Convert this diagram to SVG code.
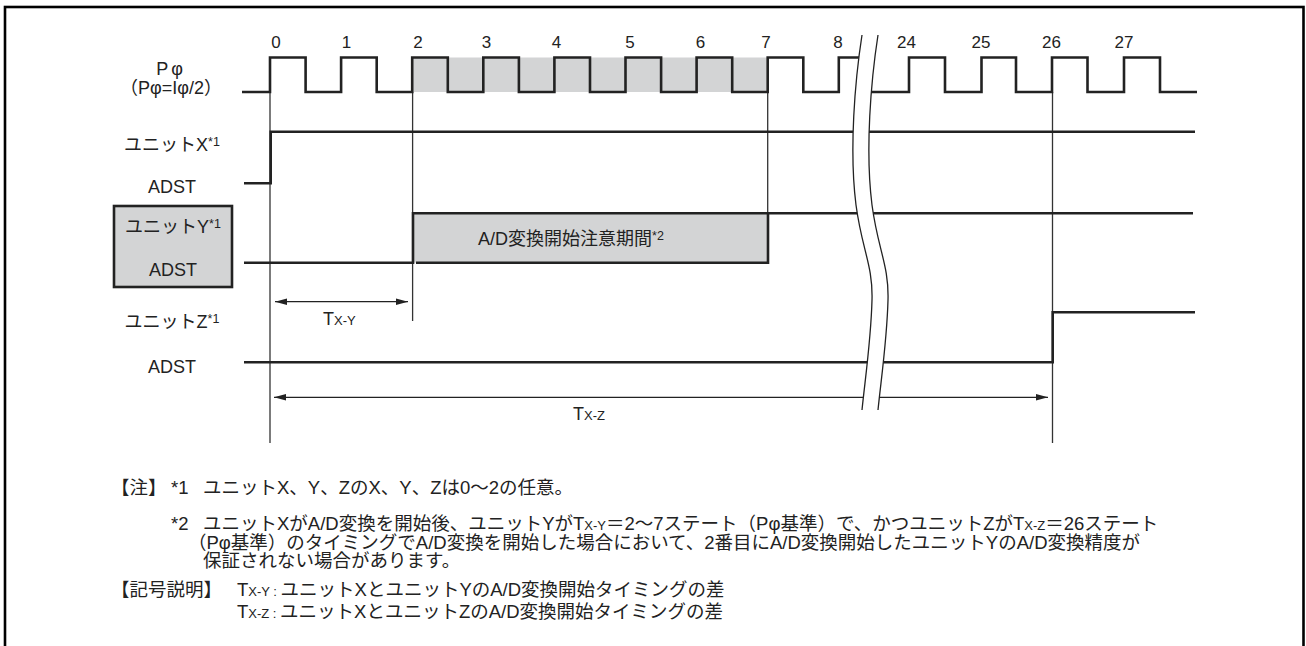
<svg xmlns="http://www.w3.org/2000/svg" width="1306" height="646" viewBox="0 0 1306 646">
<style>
text{font-family:"Liberation Sans","Noto Sans CJK JP",sans-serif;fill:#222}
.lbl{font-size:18px}
.num{font-size:17px;text-anchor:middle}
.note{font-size:18.5px}
.sub{font-size:13px}
.nsub{font-size:13px}
.sup{font-size:12.5px}
.wave{fill:none;stroke:#222;stroke-width:2.6;stroke-linejoin:miter;stroke-linecap:butt}
.ref{fill:none;stroke:#333;stroke-width:1.3}
.arr{fill:none;stroke:#222;stroke-width:1.3}
.brk{fill:none;stroke:#222;stroke-width:1.3}
</style>
<defs>
<marker id="ah" viewBox="0 0 12 8" refX="12" refY="4" markerWidth="12" markerHeight="8" markerUnits="userSpaceOnUse" orient="auto-start-reverse">
<path d="M0,0.8 L12,4 L0,7.2 Z" fill="#222"/>
</marker>
</defs>
<rect x="5" y="7" width="1298.5" height="660" fill="#fff" stroke="#000" stroke-width="2.6"/>

<g id="shading">
<rect x="412.2" y="57.5" width="355.5" height="34.5" fill="#d3d4d5"/>
<rect x="413" y="213.3" width="355" height="49.4" fill="#d3d4d5"/>
</g>

<g id="connectors">
<path class="ref" d="M270,92 V443"/>
<path class="ref" d="M412.6,92 V321"/>
<path class="ref" d="M767.7,92 V213"/>
<path class="ref" d="M1052.5,92 V443"/>
<path class="arr" d="M275,301.7 H408" marker-start="url(#ah)" marker-end="url(#ah)"/>
<path class="arr" d="M274,397.3 H1048" marker-start="url(#ah)" marker-end="url(#ah)"/>
</g>

<g id="clock">
<path class="wave" d="M242,92 H270 V57.5 H305.6 V92 H341.1 V57.5 H376.7 V92 H412.2 V57.5 H447.8 V92 H483.3 V57.5 H518.9 V92 H554.4 V57.5 H590 V92 H625.5 V57.5 H661.1 V92 H696.6 V57.5 H732.2 V92 H767.7 V57.5 H803.3 V92 H838.8 V57.5 H868"/>
<path class="wave" d="M866,92 H909 V57.5 H945 V92 H981.5 V57.5 H1016 V92 H1052 V57.5 H1087.5 V92 H1124 V57.5 H1160 V92 H1197"/>
<text class="num" x="276" y="48">0</text>
<text class="num" x="346.5" y="48">1</text>
<text class="num" x="418" y="48">2</text>
<text class="num" x="486.5" y="48">3</text>
<text class="num" x="556.5" y="48">4</text>
<text class="num" x="630" y="48">5</text>
<text class="num" x="700.5" y="48">6</text>
<text class="num" x="766" y="48">7</text>
<text class="num" x="838" y="48">8</text>
<text class="num" x="906.5" y="48">24</text>
<text class="num" x="981" y="48">25</text>
<text class="num" x="1051.5" y="48">26</text>
<text class="num" x="1124" y="48">27</text>
<text class="lbl" x="171" y="75" text-anchor="middle" letter-spacing="3">Pφ</text>
<text class="lbl" x="171" y="94" text-anchor="middle">（Pφ=Iφ/2）</text>
</g>

<g id="unitX">
<path class="wave" d="M244,183.3 H270.7 V131.7 H1195"/>
<text class="lbl" x="172" y="151" text-anchor="middle">ユニットX<tspan class="sup" dy="-5">*1</tspan></text>
<text class="lbl" x="172" y="193" text-anchor="middle">ADST</text>
</g>

<g id="unitY">
<rect x="114" y="206" width="118" height="81" fill="#d3d4d5" stroke="#222" stroke-width="2.6"/>
<path class="wave" d="M244,262.7 H413 V213.3 H1193"/>
<path class="wave" d="M416,262.7 H768 V213.3"/>
<text class="lbl" x="173" y="233" text-anchor="middle">ユニットY<tspan class="sup" dy="-5">*1</tspan></text>
<text class="lbl" x="173" y="276" text-anchor="middle">ADST</text>
<text class="lbl" x="478" y="245">A/D変換開始注意期間<tspan class="sup" dy="-5">*2</tspan></text>
</g>

<g id="unitZ">
<path class="wave" d="M244,362.3 H1052.7 V312.3 H1195"/>
<text class="lbl" x="172" y="328" text-anchor="middle">ユニットZ<tspan class="sup" dy="-5">*1</tspan></text>
<text class="lbl" x="172" y="373" text-anchor="middle">ADST</text>
</g>

<g id="timing-labels">
<text class="lbl" x="323" y="325">T<tspan class="sub">X-Y</tspan></text>
<text class="lbl" x="573" y="420">T<tspan class="sub">X-Z</tspan></text>
</g>

<g id="break">
<path d="M862,35 C855,80 849,150 856,205 C862,250 873,265 872,300 C871,340 865,380 862,410 L878,410 C881,380 887,340 888,300 C889,265 878,250 872,205 C865,150 871,80 878,35 Z" fill="#fff"/>
<path class="brk" d="M862,35 C855,80 849,150 856,205 C862,250 873,265 872,300 C871,340 865,380 862,410"/>
<path class="brk" d="M878,35 C871,80 865,150 872,205 C878,250 889,265 888,300 C887,340 881,380 878,410"/>
</g>

<g id="notes">
<text class="note" x="111" y="494">【注】</text>
<text class="note" x="171" y="494">*1</text>
<text class="note" x="203" y="494">ユニットX、Y、ZのX、Y、Zは0～2の任意。</text>
<text class="note" x="171" y="530">*2</text>
<text class="note" x="203" y="530">ユニットXがA/D変換を開始後、ユニットYがT<tspan class="nsub">X-Y</tspan>＝2～7ステート（Pφ基準）で、かつユニットZがT<tspan class="nsub">X-Z</tspan>＝26ステート</text>
<text class="note" x="188" y="548.5">（Pφ基準）のタイミングでA/D変換を開始した場合において、2番目にA/D変換開始したユニットYのA/D変換精度が</text>
<text class="note" x="203" y="567">保証されない場合があります。</text>
<text class="note" x="111" y="596">【記号説明】</text>
<text class="note" x="237" y="596">T<tspan class="nsub">X-Y : </tspan>ユニットXとユニットYのA/D変換開始タイミングの差</text>
<text class="note" x="237" y="618">T<tspan class="nsub">X-Z : </tspan>ユニットXとユニットZのA/D変換開始タイミングの差</text>
</g>
</svg>
